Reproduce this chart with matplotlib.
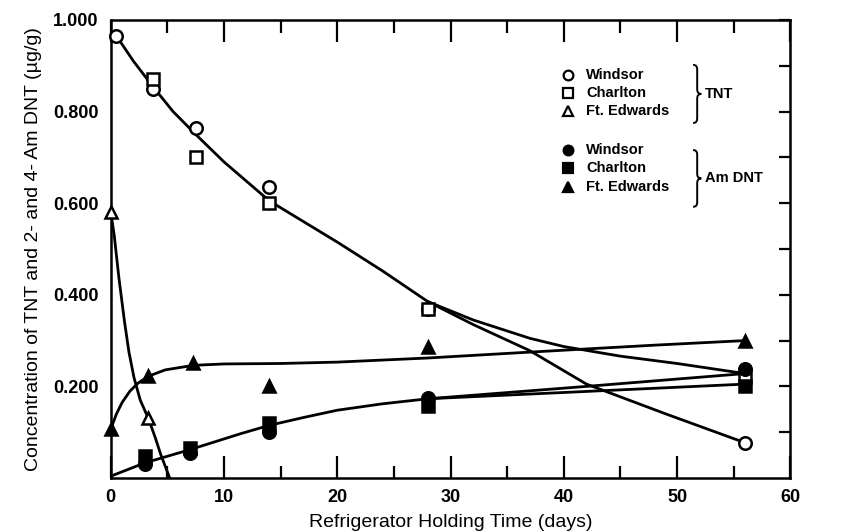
import numpy as np
import matplotlib
matplotlib.use("Agg")
import matplotlib.pyplot as plt
from matplotlib.path import Path
from matplotlib.patches import PathPatch

plt.rcParams['font.family'] = ['Liberation Sans', 'DejaVu Sans']

# measured points (days, ug/g)
tnt_windsor_x = [0.5, 3.7, 7.5, 14, 28, 56]
tnt_windsor_y = [0.965, 0.85, 0.765, 0.635, 0.37, 0.077]
tnt_charlton_x = [3.7, 7.5, 14, 28, 56]
tnt_charlton_y = [0.87, 0.70, 0.60, 0.37, 0.22]
tnt_edwards_x = [0, 3.3]
tnt_edwards_y = [0.58, 0.131]

am_windsor_x = [3, 7, 14, 28, 56]
am_windsor_y = [0.03, 0.055, 0.10, 0.175, 0.238]
am_charlton_x = [3, 7, 14, 28, 56]
am_charlton_y = [0.048, 0.065, 0.12, 0.158, 0.20]
am_edwards_x = [0, 3.3, 7.3, 14, 28, 56]
am_edwards_y = [0.107, 0.223, 0.252, 0.20, 0.285, 0.30]

# hand drawn fit curves
tnt_fit_x = [0.5, 2, 3.7, 5.5, 7.5, 10, 14, 17, 20, 24, 28]
tnt_fit_y = [0.965, 0.91, 0.855, 0.80, 0.75, 0.69, 0.605, 0.56, 0.515, 0.452, 0.385]
tnt_windsor_fit_x = [28, 32, 37, 42, 49, 56]
tnt_windsor_fit_y = [0.385, 0.335, 0.278, 0.205, 0.14, 0.077]
tnt_charlton_fit_x = [28, 32, 37, 40, 45, 50, 56]
tnt_charlton_fit_y = [0.385, 0.345, 0.305, 0.287, 0.266, 0.25, 0.228]
tnt_edwards_fit_x = [0, 0.3, 0.7, 1.2, 1.6, 2.05, 2.6, 3.3, 3.9, 4.4, 5.2]
tnt_edwards_fit_y = [0.58, 0.53, 0.44, 0.343, 0.275, 0.219, 0.17, 0.131, 0.09, 0.052, 0.0]

am_fit_x = [0, 3, 7, 11.5, 14, 17, 20, 24, 28]
am_fit_y = [0.004, 0.033, 0.062, 0.097, 0.115, 0.132, 0.148, 0.162, 0.173]
am_windsor_fit_x = [28, 42, 56]
am_windsor_fit_y = [0.173, 0.20, 0.228]
am_charlton_fit_x = [28, 42, 56]
am_charlton_fit_y = [0.173, 0.189, 0.205]
am_edwards_fit_x = [0, 0.5, 1, 1.7, 2.4, 3.3, 4.8, 7.3, 10, 15, 20, 28, 35, 40, 48, 56]
am_edwards_fit_y = [0.107, 0.14, 0.165, 0.19, 0.207, 0.222, 0.236, 0.246, 0.249,
                    0.25, 0.253, 0.262, 0.272, 0.279, 0.29, 0.30]

site_names = ['Windsor', 'Charlton', 'Ft. Edwards']

fig = plt.figure(figsize=(8.59, 5.32), dpi=100)
ax = fig.add_axes([0.129, 0.1015, 0.791, 0.861])

lw = 2.0
for fx, fy in [(tnt_fit_x, tnt_fit_y), (tnt_windsor_fit_x, tnt_windsor_fit_y),
               (tnt_charlton_fit_x, tnt_charlton_fit_y),
               (tnt_edwards_fit_x, tnt_edwards_fit_y),
               (am_fit_x, am_fit_y), (am_windsor_fit_x, am_windsor_fit_y),
               (am_charlton_fit_x, am_charlton_fit_y),
               (am_edwards_fit_x, am_edwards_fit_y)]:
    ax.plot(fx, fy, color='black', lw=lw, solid_capstyle='round',
            solid_joinstyle='round', zorder=2)

ms = 9
mk = dict(ls='none', markersize=ms, markeredgecolor='black', markeredgewidth=1.8,
          clip_on=False, zorder=3)
ax.plot(tnt_windsor_x, tnt_windsor_y, marker='o', markerfacecolor='white', **mk)
ax.plot(tnt_charlton_x, tnt_charlton_y, marker='s', markerfacecolor='white', **mk)
ax.plot(tnt_edwards_x, tnt_edwards_y, marker='^', markerfacecolor='white', **mk)
ax.plot(am_windsor_x, am_windsor_y, marker='o', markerfacecolor='black', **mk)
ax.plot(am_charlton_x, am_charlton_y, marker='s', markerfacecolor='black', **mk)
ax.plot(am_edwards_x, am_edwards_y, marker='^', markerfacecolor='black', **mk)

ax.set_xlim(0, 60)
ax.set_ylim(0, 1.0)

ax.set_xticks(np.arange(0, 61, 10))
ax.set_xticks(np.arange(5, 60, 10), minor=True)
ax.set_yticks([0.2, 0.4, 0.6, 0.8, 1.0])
ax.set_yticklabels(['0.200', '0.400', '0.600', '0.800', '1.000'])
ax.set_yticks(np.arange(0.1, 1.0, 0.2), minor=True)

ax.tick_params(axis='x', which='major', direction='in', top=True, bottom=True,
               length=16, width=1.6, pad=8, labelsize=13)
ax.tick_params(axis='x', which='minor', direction='in', top=True, bottom=True,
               length=9, width=1.6)
ax.tick_params(axis='y', which='both', direction='in', left=False, right=True,
               length=8, width=1.6, labelsize=13, pad=9)
for lab in ax.get_xticklabels() + ax.get_yticklabels():
    lab.set_fontweight('bold')

for sp in ax.spines.values():
    sp.set_linewidth(1.8)

ax.set_xlabel('Refrigerator Holding Time (days)', fontsize=14, labelpad=6)
ax.set_ylabel('Concentration of TNT and 2- and 4- Am DNT (\u00b5g/g)', fontsize=14,
              labelpad=8)

# legend drawn by hand with braces
leg_mx = 0.673
leg_tx = 0.700
rows_tnt = [0.880, 0.841, 0.801]
rows_am = [0.716, 0.677, 0.635]
for y, m, name in zip(rows_tnt, ['o', 's', '^'], site_names):
    ax.plot([leg_mx], [y], marker=m, markersize=7, markerfacecolor='white',
            markeredgecolor='black', markeredgewidth=1.6, transform=ax.transAxes)
    ax.text(leg_tx, y, name, transform=ax.transAxes, fontsize=10.5,
            fontweight='bold', va='center', ha='left')
for y, m, name in zip(rows_am, ['o', 's', '^'], site_names):
    ax.plot([leg_mx], [y], marker=m, markersize=7, markerfacecolor='black',
            markeredgecolor='black', markeredgewidth=1.6, transform=ax.transAxes)
    ax.text(leg_tx, y, name, transform=ax.transAxes, fontsize=10.5,
            fontweight='bold', va='center', ha='left')


def brace(x0, top, bot, w):
    mid = (top + bot) / 2
    xm = x0 + w / 2
    r = (top - bot) * 0.08
    verts = [(x0, top), (xm, top), (xm, top - r),
             (xm, mid + r), (xm, mid), (x0 + w, mid),
             (xm, mid), (xm, mid - r),
             (xm, bot + r), (xm, bot), (x0, bot)]
    codes = [Path.MOVETO, Path.CURVE3, Path.CURVE3,
             Path.LINETO, Path.CURVE3, Path.CURVE3,
             Path.CURVE3, Path.CURVE3,
             Path.LINETO, Path.CURVE3, Path.CURVE3]
    ax.add_patch(PathPatch(Path(verts, codes), transform=ax.transAxes,
                           fill=False, lw=1.4, color='black'))
    return mid


m1 = brace(0.857, 0.902, 0.775, 0.012)
ax.text(0.875, m1, 'TNT', transform=ax.transAxes, fontsize=10.5,
        fontweight='bold', va='center', ha='left')
m2 = brace(0.857, 0.716, 0.592, 0.012)
ax.text(0.875, m2, 'Am DNT', transform=ax.transAxes, fontsize=10.5,
        fontweight='bold', va='center', ha='left')

fig.savefig('out.png', dpi=100)
